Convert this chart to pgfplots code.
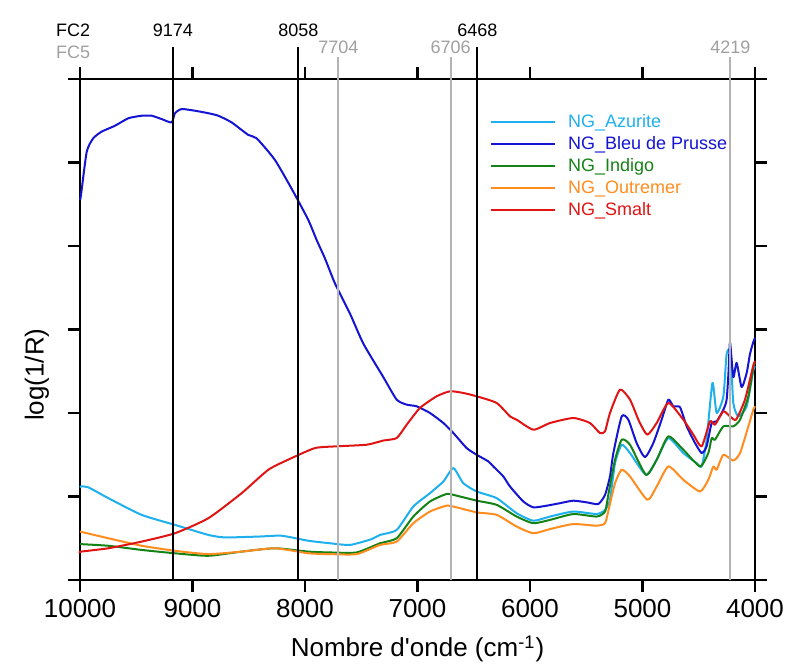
\documentclass[border=0pt]{standalone}
\usepackage{fontspec}
\setmainfont{Liberation Sans}
\usepackage{pgfplots}
\pgfplotsset{compat=1.18}
\definecolor{azur}{RGB}{30,176,236}
\definecolor{prusse}{RGB}{20,20,210}
\definecolor{indigoc}{RGB}{20,130,20}
\definecolor{outremer}{RGB}{255,140,30}
\definecolor{smalt}{RGB}{225,20,20}
\definecolor{vgray}{RGB}{180,180,180}
\definecolor{lgray}{RGB}{160,160,160}
\begin{document}
\begin{tikzpicture}
\path[use as bounding box] (-40pt,-44pt) rectangle (353pt,290pt);
\begin{axis}[
  at={(0,0)}, anchor=south west,
  scale only axis, width=337.5pt, height=250.5pt,
  x dir=reverse, xmin=4000, xmax=10000, ymin=0, ymax=6,
  xtick={4000,5000,...,10000}, ytick={0,1,...,6}, yticklabels={},
  scaled x ticks=false,
  tick pos=both, tick align=outside, major tick length=6pt,
  xticklabel pos=bottom,
  tick style={line width=1.4pt, black},
  axis line style={line width=1.4pt},
  /pgf/number format/assume math mode=true,
  /pgf/number format/set thousands separator={},
  ticklabel style={font=\fontsize{13}{15}\selectfont},
  xlabel={Nombre d\textquotesingle onde (cm\textsuperscript{-1})},
  ylabel={log(1/R)},
  label style={font=\fontsize{13}{15}\selectfont},
  xlabel style={at={(rel axis cs:0.5,0)}, anchor=center, yshift=-34.5pt},
  ylabel style={at={(rel axis cs:0,0.41)}, anchor=center, yshift=21.5pt},
  clip=false,
  legend cell align=left,
  legend style={at={(rel axis cs:0.598,0.94)}, anchor=north west, draw=none, fill=none,
    font=\fontsize{9}{10}\selectfont, row sep=2pt, column sep=6pt,
    nodes={inner sep=0pt, text height=7pt, text depth=2pt}},
  legend image code/.code={\draw[#1] (0pt,0pt) -- (32pt,0pt);},
  every axis plot/.append style={line width=1pt, line join=round, smooth, tension=0.35},
]
\addplot[azur] coordinates {(10000,1.11) (9991,1.12) (9926,1.11) (9748,0.98) (9452,0.78) (9156,0.66) (8859,0.54) (8711,0.51) (8415,0.52) (8207,0.53) (7970,0.47) (7778,0.44) (7600,0.42) (7407,0.49) (7333,0.54) (7185,0.60) (7037,0.88) (6889,1.04) (6770,1.18) (6681,1.34) (6593,1.16) (6474,1.06) (6296,0.98) (6119,0.80) (5970,0.71) (5822,0.76) (5615,0.82) (5407,0.79) (5333,0.84) (5289,0.96) (5244,1.40) (5185,1.62) (5111,1.52) (4969,1.26) (4874,1.44) (4770,1.70) (4637,1.52) (4519,1.40) (4474,1.36) (4430,1.68) (4378,2.36) (4341,2.00) (4281,2.20) (4252,2.71) (4217,2.73) (4193,2.12) (4148,1.96) (4074,2.08) (4015,2.51) (4000,2.56)};
\addlegendentry{\textcolor{azur}{NG\_Azurite}}
\addplot[prusse] coordinates {(10000,4.55) (9991,4.61) (9940,5.13) (9882,5.29) (9807,5.37) (9689,5.44) (9570,5.53) (9452,5.56) (9363,5.56) (9274,5.52) (9185,5.48) (9156,5.59) (9096,5.64) (8978,5.62) (8859,5.59) (8770,5.56) (8652,5.48) (8504,5.33) (8430,5.29) (8267,5.03) (8104,4.65) (7970,4.31) (7896,4.07) (7822,3.85) (7733,3.55) (7600,3.19) (7481,2.83) (7304,2.43) (7185,2.16) (7096,2.10) (7007,2.08) (6889,2.00) (6770,1.88) (6681,1.76) (6563,1.58) (6474,1.50) (6370,1.42) (6326,1.36) (6237,1.24) (6178,1.12) (6059,0.94) (5970,0.87) (5852,0.89) (5733,0.92) (5615,0.95) (5496,0.93) (5393,0.91) (5333,1.02) (5289,1.24) (5259,1.52) (5185,1.96) (5126,1.92) (5052,1.64) (4978,1.47) (4904,1.64) (4830,1.92) (4770,2.16) (4726,2.08) (4667,2.07) (4607,1.84) (4533,1.64) (4474,1.52) (4430,1.60) (4385,1.88) (4341,1.90) (4281,2.04) (4252,2.16) (4235,2.50) (4222,2.85) (4193,2.43) (4163,2.60) (4119,2.31) (4074,2.48) (4044,2.71) (4015,2.85) (4000,2.90)};
\addlegendentry{\textcolor{prusse}{NG\_Bleu de Prusse}}
\addplot[indigoc] coordinates {(10000,0.43) (9748,0.41) (9452,0.36) (9156,0.32) (8859,0.29) (8563,0.34) (8267,0.38) (7970,0.34) (7778,0.33) (7541,0.33) (7333,0.44) (7185,0.50) (7037,0.76) (6889,0.94) (6741,1.03) (6652,1.01) (6474,0.95) (6296,0.90) (6119,0.76) (5970,0.68) (5822,0.72) (5615,0.79) (5407,0.76) (5333,0.82) (5300,1.05) (5244,1.44) (5185,1.68) (5111,1.62) (4969,1.26) (4874,1.44) (4770,1.72) (4637,1.56) (4489,1.36) (4415,1.52) (4385,1.70) (4356,1.68) (4281,1.84) (4193,1.84) (4133,1.92) (4059,2.20) (4015,2.55) (4000,2.60)};
\addlegendentry{\textcolor{indigoc}{NG\_Indigo}}
\addplot[outremer] coordinates {(10000,0.58) (9748,0.50) (9452,0.41) (9156,0.35) (8859,0.31) (8563,0.34) (8267,0.38) (7970,0.32) (7778,0.31) (7541,0.31) (7333,0.42) (7185,0.46) (7037,0.68) (6889,0.82) (6741,0.89) (6652,0.87) (6474,0.81) (6296,0.78) (6119,0.64) (5970,0.56) (5822,0.61) (5615,0.67) (5407,0.65) (5333,0.68) (5300,0.85) (5244,1.16) (5185,1.32) (5111,1.24) (4957,0.96) (4874,1.12) (4770,1.36) (4637,1.20) (4489,1.06) (4415,1.20) (4370,1.36) (4341,1.32) (4281,1.50) (4193,1.43) (4133,1.52) (4059,1.84) (4015,2.04) (4000,2.08)};
\addlegendentry{\textcolor{outremer}{NG\_Outremer}}
\addplot[smalt] coordinates {(10000,0.33) (9991,0.34) (9748,0.38) (9452,0.46) (9156,0.56) (8859,0.74) (8563,1.04) (8326,1.32) (8119,1.46) (7911,1.58) (7733,1.60) (7452,1.62) (7304,1.67) (7185,1.70) (7096,1.86) (6978,2.06) (6830,2.20) (6711,2.26) (6593,2.24) (6474,2.20) (6296,2.12) (6178,1.96) (6119,1.92) (5970,1.80) (5822,1.88) (5615,1.94) (5467,1.88) (5378,1.76) (5333,1.78) (5289,2.00) (5200,2.28) (5111,2.16) (5030,1.90) (4957,1.74) (4874,1.88) (4770,2.12) (4637,1.92) (4548,1.74) (4474,1.60) (4400,1.90) (4356,1.86) (4281,2.02) (4222,1.96) (4169,1.92) (4089,2.16) (4015,2.57) (4000,2.62)};
\addlegendentry{\textcolor{smalt}{NG\_Smalt}}
% reference lines
\addplot[vgray, forget plot, sharp plot] coordinates {(7704,0) (7704,6.263)};
\addplot[vgray, forget plot, sharp plot] coordinates {(6706,0) (6706,6.263)};
\addplot[vgray, forget plot, sharp plot] coordinates {(4219,0) (4219,6.263)};
\addplot[black, forget plot, sharp plot] coordinates {(9174,0) (9174,6.383)};
\addplot[black, forget plot, sharp plot] coordinates {(8058,0) (8058,6.383)};
\addplot[black, forget plot, sharp plot] coordinates {(6468,0) (6468,6.383)};
\node[font=\fontsize{9}{10}\selectfont, text=black] at (axis cs:9174,6.587) {9174};
\node[font=\fontsize{9}{10}\selectfont, text=black] at (axis cs:8058,6.587) {8058};
\node[font=\fontsize{9}{10}\selectfont, text=black] at (axis cs:6468,6.587) {6468};
\node[font=\fontsize{9}{10}\selectfont, text=lgray] at (axis cs:7704,6.383) {7704};
\node[font=\fontsize{9}{10}\selectfont, text=lgray] at (axis cs:6706,6.383) {6706};
\node[font=\fontsize{9}{10}\selectfont, text=lgray] at (axis cs:4219,6.383) {4219};
\node[font=\fontsize{9}{10}\selectfont, text=black] at (axis cs:10062,6.587) {FC2};
\node[font=\fontsize{9}{10}\selectfont, text=lgray] at (axis cs:10062,6.323) {FC5};
\end{axis}
\end{tikzpicture}
\end{document}
